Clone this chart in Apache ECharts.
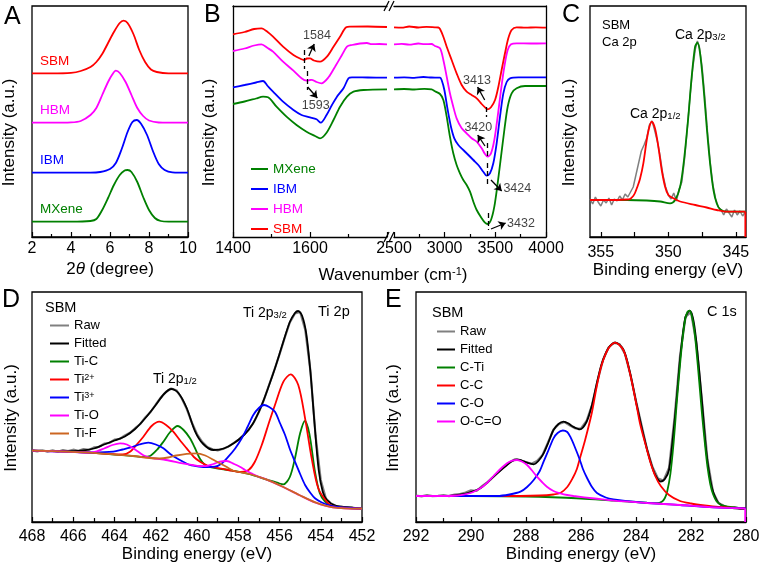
<!DOCTYPE html>
<html><head><meta charset="utf-8">
<script src="https://cdn.jsdelivr.net/npm/echarts@6/dist/echarts.min.js"></script>
<style>html,body{margin:0;padding:0;background:#fff}#c{width:762px;height:569px}</style>
</head><body><div id="c"></div>
<script>
// ---------- Panel A: XRD (2theta, intensity a.u.) ----------
const aSBM = [[2,163.7],[3,163.7],[4,164.2],[4.5,166],[5.0,170],[5.3,175],[5.6,183],[5.9,194],[6.2,205],[6.5,214],[6.7,216.3],[6.9,214],[7.2,203],[7.5,187],[7.8,175],[8.1,167.5],[8.4,165],[9,163.7],[10,163.7]];
const aHBM = [[2,114.3],[3,114.3],[4,114.6],[4.5,116],[5.0,122],[5.3,129],[5.6,142],[5.9,155],[6.1,162],[6.3,166.3],[6.5,164],[6.8,155],[7.1,142],[7.4,129],[7.7,121],[8.0,116.5],[8.5,114.5],[9,114.3],[10,114.3]];
const aIBM = [[2,64.3],[5,64.3],[5.5,65],[6.0,68],[6.3,74],[6.6,88],[6.9,105],[7.15,115],[7.37,117],[7.6,113],[7.9,102],[8.2,86],[8.5,73],[8.8,67],[9.2,64.6],[10,64.3]];
const aMX = [[2,15.3],[4,15.3],[5.0,16],[5.3,18],[5.6,27],[5.9,39],[6.2,52],[6.5,62],[6.75,66.5],[6.9,67],[7.1,65],[7.4,55],[7.7,40],[8.0,27],[8.3,19],[8.6,16],[9,15.3],[10,15.3]];

// ---------- Panel B: FTIR (wavenumber, intensity) ----------
const bSBM_L = [[1400,202.7],[1430,205],[1455,208],[1474,208.7],[1490,205],[1504,200.3],[1530,190.3],[1557,182],[1578,177.7],[1584,177],[1592,178.5],[1600,178.7],[1610,176.5],[1626,175.3],[1644,180.3],[1661,190.3],[1678,200.3],[1694,209.7],[1705,210.3],[1750,210.5],[1800,210]];
const bHBM_L = [[1400,186],[1430,188.5],[1455,191.5],[1474,192.7],[1490,189],[1504,185.3],[1530,175.3],[1557,166.3],[1578,158.7],[1591,156.3],[1600,157],[1604,157.2],[1617,155],[1630,153.7],[1648,159.7],[1665,170.3],[1683,182],[1696,190.3],[1709,192],[1730,193.5],[1748,194],[1760,192.8],[1780,193],[1800,192.7]];
const bIBM_L = [[1400,149.7],[1430,152],[1460,154.5],[1478,156],[1490,151],[1504,145.3],[1530,135.3],[1557,127],[1578,122],[1600,119.7],[1617,117.7],[1628,114.3],[1643,122],[1657,132],[1670,140.3],[1687,148.7],[1700,158.7],[1709,159.7],[1750,159.5],[1800,159.3]];
const bMX_L = [[1400,133],[1430,135.5],[1460,138.5],[1478,140.3],[1491,139.7],[1513,130.3],[1539,120.3],[1565,112],[1591,105.3],[1613,101],[1626,98.7],[1643,104.3],[1661,117],[1678,130.3],[1696,140.3],[1713,145.3],[1739,147],[1800,147.7]];
const bSBM_R = [[2500,209.7],[2576,209.3],[2650,210.5],[2740,209.5],[2820,210.2],[2904,209.7],[2937,209.5],[2954,208],[2987,200.3],[3020,190.3],[3069,177],[3118,163.7],[3168,152],[3217,145.3],[3266,142],[3316,138.7],[3365,133],[3398,129.7],[3424,127.7],[3457,129.7],[3497,137],[3530,150.3],[3562,167],[3595,183.7],[3628,198.7],[3661,207],[3710,209.7],[3800,209.3],[3900,209.7],[4000,209.3]];
const bHBM_R = [[2500,192.7],[2576,193.2],[2650,192.3],[2740,193.5],[2800,192.8],[2871,193],[2904,191],[2954,188.7],[2987,177],[3020,160.3],[3052,143.7],[3085,130.3],[3118,118.7],[3168,108.7],[3217,103.7],[3266,98.7],[3316,95.3],[3365,88.7],[3398,83],[3424,80.3],[3457,83.7],[3490,97],[3523,120.3],[3556,147],[3589,170.3],[3622,187],[3655,192.7],[3710,193.7],[3850,193.5],[4000,193.7]];
const bIBM_R = [[2500,159.3],[2600,159.6],[2700,159.2],[2790,160],[2870,159.5],[2954,159.3],[2970,157],[2997,147],[3030,127],[3062,110.3],[3095,98.7],[3135,92],[3184,87],[3234,82],[3283,77],[3332,72],[3381,65.3],[3414,61.3],[3447,63.7],[3480,73.7],[3513,93.7],[3546,120.3],[3579,143.7],[3612,155],[3645,158.7],[3727,159.7],[4000,159.7]];
const bMX_R = [[2500,147.7],[2600,148],[2700,147.5],[2800,148.2],[2871,147.7],[2904,145.7],[2954,143],[2987,137],[3020,120.3],[3052,100.3],[3085,83.7],[3118,72],[3151,63.7],[3184,57],[3217,52],[3250,45.3],[3283,35.3],[3316,27],[3365,18.7],[3398,14.3],[3424,13],[3457,17],[3490,30.3],[3523,53.7],[3556,80.3],[3589,107],[3622,130.3],[3661,143.7],[3710,148.7],[3793,151],[4000,151]];
// annotations: dashed guides [x1,y1,x2,y2], arrows [x1,y1,x2,y2], texts [x,y,label]
const bLeftDash = [[1584,187,1584,168],[1593,166,1593,147]];
const bLeftArrow = [[1597,181,1611,193],[1594,150,1619,139]];
const bLeftText = [[1618,201,'1584'],[1615,131,'1593']];
const bRightDash = [[3413,130,3413,120],[3420,94,3420,78],[3424,74,3424,52],[3432,24,3432,7]];
const bRightArrow = [[3395,137,3325,150],[3398,91,3326,102],[3457,57,3563,46],[3457,8,3602,14]];
const bRightText = [[3319,156,'3413'],[3332,109,'3420'],[3717,48,'3424'],[3753,13,'3432']];

// ---------- Panel C: Ca 2p XPS ----------
const cRaw = [[355.8,38],[355.6,33],[355.4,40],[355.2,35],[355.0,31],[354.8,37],[354.6,34],[354.4,39],[354.2,32],[354.0,38],[353.8,36],[353.6,41],[353.4,37],[353.2,43],[353.0,40],[352.8,45],[352.6,50],[352.4,62],[352.2,74],[352.0,86],[351.8,92],[351.6,99],[351.4,112],[351.2,116],[351.0,106],[350.8,95],[350.6,80],[350.4,62],[350.2,50],[350.0,42],[349.8,38],[349.6,44],[349.4,36],[349.2,48],[349.0,55],[348.8,78],[348.6,108],[348.4,140],[348.2,168],[348.0,188],[347.85,196],[347.7,190],[347.5,170],[347.3,140],[347.1,105],[346.9,75],[346.7,52],[346.5,38],[346.3,30],[346.1,27],[345.9,22],[345.7,28],[345.5,24],[345.3,20],[345.1,27],[344.9,22],[344.7,26],[344.5,21],[344.3,25]];
const cP12 = [[355.8,37],[354.3,37],[353.1,37.5],[352.84,38],[352.6,41],[352.47,44],[352.3,50],[352.1,58],[351.85,73.7],[351.6,97],[351.4,110.3],[351.23,115.3],[350.99,108.7],[350.74,90.3],[350.49,67],[350.24,50.3],[350.0,42],[349.63,38.7],[349.13,35.5],[348.0,32],[347.16,29.5],[346.42,27],[345.68,25.3],[344.3,25.3]];
const cP32 = [[355.8,37],[353.08,37],[351.6,36.5],[350.6,35.5],[349.87,33.7],[349.5,37],[349.13,50],[348.84,77],[348.52,120.3],[348.27,160.3],[348.02,190.3],[347.85,194.3],[347.65,183.7],[347.4,150.3],[347.16,110.3],[346.91,73.7],[346.66,47],[346.42,33.7],[346.17,27.7],[345.68,25.3],[344.3,25.3]];
const cDrop = [[344.3,25.3],[344.3,0]];

// ---------- Panel D: Ti 2p XPS ----------
const dRaw = [[468.0,71.5],[467.75,70.6],[467.5,71.8],[467.25,70.4],[467.0,71.6],[466.75,70.2],[466.5,72.0],[466.25,70.9],[466.0,72.3],[465.75,71.2],[465.5,73.0],[465.25,72.1],[465.0,74.6],[464.75,75.2],[464.5,78.4],[464.25,79.0],[464.0,82.3],[463.75,83.0],[463.5,86.5],[463.25,89.2],[463.0,93.8],[462.75,98.0],[462.5,104.8],[462.25,110.0],[462.0,117.5],[461.75,124.5],[461.5,130.2],[461.25,133.5],[461.0,131.8],[460.75,124.0],[460.5,113.2],[460.25,99.5],[460.0,88.0],[459.75,80.2],[459.5,75.0],[459.25,72.8],[459.0,71.5],[458.75,73.0],[458.5,75.2],[458.25,78.6],[458.0,82.0],[457.75,86.8],[457.5,92.0],[457.25,99.5],[457.0,110.0],[456.75,122.5],[456.5,137.5],[456.25,152.0],[456.0,167.5],[455.75,184.0],[455.5,199.5],[455.25,208.5],[455.0,210.0],[454.75,192.0],[454.5,151.0],[454.25,86.0],[454.0,42.0],[453.75,23.5],[453.5,18.5],[453.25,16.0],[453.0,15.5],[452.75,14.2],[452.5,14.6],[452.25,13.5],[452.0,13.3]];
const dFit = [[468.0,71.3],[467.0,71.0],[466.0,70.8],[465.5,71.5],[465.0,73.5],[464.5,77.5],[464.0,81.5],[463.5,85.5],[463.0,93],[462.5,104],[462.0,117],[461.6,128],[461.25,133],[460.9,129],[460.5,114],[460.1,91],[459.7,78],[459.2,72],[458.7,73.5],[458.2,79],[457.7,87.5],[457.3,98],[456.9,115],[456.5,137],[456.2,155],[455.85,178],[455.5,200],[455.25,209],[455.1,211],[454.9,206],[454.7,188],[454.5,150],[454.3,98],[454.1,52],[453.9,30],[453.7,22],[453.3,16.5],[452.5,14.3],[452.0,13.3]];
const dTiC = [[468,71.3],[466.3,70.3],[464.7,68.7],[463.1,66],[462.6,65.2],[462.28,66],[461.95,72],[461.63,80.3],[461.3,90],[460.94,96],[460.65,92],[460.34,83.7],[460.1,74],[459.85,63],[459.6,57],[459.3,54.5],[458.8,53],[458.3,51.3],[457.5,48],[456.65,42.7],[456.0,38.5],[455.81,37.7],[455.5,45],[455.25,63.7],[455.0,88.7],[454.77,101],[454.55,88],[454.28,50.3],[454.05,29],[453.79,20.3],[453.4,15.5],[452,13.3]];
const dTi2 = [[468,71.3],[466.3,70.3],[464.7,68.7],[463.6,67.5],[463.25,70.3],[462.9,78],[462.6,85.3],[462.2,96],[461.83,100.3],[461.5,97],[461.15,90.3],[460.8,81],[460.5,73.7],[460.15,65],[459.85,60.3],[459.5,56.5],[459.1,54.3],[458.3,51.3],[457.9,50],[457.5,52],[457.2,60],[456.86,77],[456.5,100],[456.22,117],[455.81,140.3],[455.46,147.7],[455.09,137],[454.76,103.7],[454.44,63.7],[454.12,33.7],[453.71,20.3],[453.4,15.5],[452,13.3]];
const dTi3 = [[468,71.3],[466.3,70.3],[465,69.5],[464.06,70.3],[463.6,72.5],[463.25,74.3],[462.8,77.5],[462.36,79.3],[462.0,77.5],[461.63,73.7],[461.3,68],[460.98,63.7],[460.65,60],[460.34,57],[459.9,55.5],[459.5,55],[459.13,55.3],[458.8,58.5],[458.48,65.3],[458.15,73.5],[457.83,83.7],[457.55,95],[457.27,107],[457.0,114],[456.75,117],[456.5,115],[456.22,110.3],[455.98,99],[455.73,87],[455.5,73],[455.25,60.3],[455.0,48],[454.76,37],[454.5,29],[454.28,23.7],[453.95,19.5],[453.63,17],[453.2,15],[452,13.3]];
const dTiO = [[468,71.3],[466.3,70.3],[465.3,69.5],[464.86,70.7],[464.5,73.5],[464.1,77],[463.73,78.7],[463.4,77.5],[463.0,72.5],[462.6,66.7],[462.2,64],[461.5,62],[460.7,58.7],[460.2,57],[459.9,56],[459.6,55.8],[459.2,58],[458.9,60.3],[458.56,61],[458.2,58],[457.9,55],[457.67,52],[457.3,48],[457.03,45.3],[456.65,42.7],[455.85,35.3],[455.05,27],[454.25,19.3],[453.4,14.7],[452,13.3]];
const dTiF = [[468,71.3],[466.3,70.3],[464.7,68.7],[463.1,66],[462.3,64],[461.8,63.5],[461.4,64.5],[461.0,66.5],[460.5,68.2],[460.04,68.7],[459.6,66.5],[459.1,61],[458.6,55.5],[458.26,51.5],[457.46,48],[456.65,42.7],[455.84,35.3],[455.04,27],[454.23,19.3],[453.42,14.7],[452.0,13.3]];

// ---------- Panel E: C 1s XPS ----------
const eRaw = [[292.0,26.5],[291.8,25.6],[291.6,26.9],[291.4,25.8],[291.2,26.2],[291.0,27.0],[290.8,25.9],[290.6,27.4],[290.4,28.0],[290.2,29.5],[290.0,31.6],[289.8,31.0],[289.6,35.8],[289.4,40.0],[289.2,44.8],[289.0,50.2],[288.8,55.0],[288.6,59.5],[288.4,62.8],[288.2,61.5],[288.0,60.0],[287.8,58.2],[287.6,61.0],[287.4,67.0],[287.2,79.5],[287.0,92.5],[286.8,98.0],[286.6,100.0],[286.4,96.5],[286.2,93.5],[286.0,93.5],[285.8,101],[285.6,117],[285.4,141],[285.2,162],[285.0,174.5],[284.8,179],[284.6,178],[284.4,168],[284.2,147],[284.0,121],[283.8,97],[283.6,73],[283.4,55],[283.2,43.5],[283.0,41.5],[282.8,54],[282.6,104],[282.4,166],[282.2,205],[282.0,210],[281.8,178],[281.6,121],[281.4,62],[281.2,30],[281.0,19],[280.8,16.2],[280.6,14.0],[280.4,14.8],[280.2,13.2],[280.0,13.6]];
const eFit = [[292,26],[291.5,26],[290.87,26.2],[290.5,27.2],[290.15,28.7],[289.9,30.8],[289.66,33.7],[289.42,39],[289.18,45.3],[288.93,51.5],[288.69,57],[288.5,61],[288.33,62.7],[288.15,61.5],[287.96,59.3],[287.72,57.7],[287.55,61],[287.36,68.7],[287.18,80],[287.0,92],[286.82,98],[286.64,100.3],[286.45,98.5],[286.33,96],[286.04,92.7],[285.8,100],[285.61,116],[285.43,138],[285.25,158],[285.0,174],[284.76,179.5],[284.46,172.5],[284.22,149.5],[283.97,116.5],[283.72,86],[283.48,61],[283.3,47],[283.1,40.5],[282.95,43],[282.8,52],[282.63,92],[282.5,130],[282.39,165],[282.21,204],[282.05,211.3],[281.9,200],[281.75,165],[281.6,120],[281.45,72],[281.3,42],[281.18,29],[281.0,19],[280.69,14.7],[280,13.3]];
const eCTi = [[292,26],[290,26],[288,25.5],[286,23.5],[284.8,21.3],[284,20],[283.6,19.3],[283.24,18.8],[283.05,20.5],[282.95,24],[282.87,30],[282.75,48],[282.63,80],[282.51,122],[282.39,160],[282.3,185],[282.21,203],[282.13,210],[282.05,211.3],[281.97,206],[281.88,192],[281.79,168],[281.7,140],[281.6,108],[281.5,80],[281.4,55],[281.3,38],[281.2,28],[281.05,20],[280.8,16],[280,13.5]];
const eCC = [[292,26],[289,26],[287.5,26.5],[287.0,27.5],[286.75,29],[286.5,35],[286.3,44],[286.15,53],[286.04,63.7],[285.85,82],[285.61,108.7],[285.43,135.3],[285.25,157],[285.0,173.7],[284.76,179.3],[284.46,172],[284.22,148.7],[283.97,115.3],[283.85,98],[283.6,72],[283.48,60],[283.3,46],[283.1,36],[282.8,27],[282.4,21],[282.0,18.5],[281.5,16.5],[281.0,15],[280,13.5]];
const eCO = [[292,26],[289.05,26],[288.6,27.5],[288.2,30.3],[287.96,35],[287.72,42],[287.5,51],[287.36,60.3],[287.18,72],[287.0,83.7],[286.85,89],[286.66,91.5],[286.5,90],[286.39,85.3],[286.24,76],[286.04,62],[285.93,53],[285.78,44],[285.6,35],[285.42,29],[285.1,24.5],[284.82,22.7],[284,20],[282.4,17],[281.2,14.7],[280,13.7]];
const eOCO = [[292,26],[290.87,26],[290.5,26.5],[290.27,27.3],[289.96,29.5],[289.66,33.7],[289.4,39.5],[289.18,46],[288.93,53],[288.69,58.7],[288.5,61.3],[288.33,62],[288.15,60.5],[287.96,57],[287.78,51.5],[287.6,45.3],[287.42,40],[287.24,35.3],[287.0,31],[286.75,28.7],[286.5,27],[286.27,26],[285.5,23.5],[284.81,21.3],[283.6,19],[282.39,17],[281.18,14.7],[280.03,13.7]];
const eDrop = [[280.03,13.7],[280.03,0]];

// ---------- styling ----------
const FONT = "'Liberation Sans', Arial, Helvetica, sans-serif";
const RED='#FF0000', MAG='#FF00FF', BLUE='#0000FF', GREEN='#008000', GRAY='#808080', BLACK='#000000', BROWN='#CC6622';

const chart = echarts.init(document.getElementById('c'), null, {renderer:'canvas'});

function ln(name, data, color, xi, yi, opt){
  return Object.assign({type:'line', name, data, xAxisIndex:xi, yAxisIndex:yi, symbol:'none', showSymbol:false,
    smooth:0.3, lineStyle:{color, width:1.8}, itemStyle:{color}, emphasis:{disabled:true}, silent:true, animation:false}, opt||{});
}
const tickStyle = {color:'#000', width:1.2};
const plainNum = v => (v === null || v === undefined) ? '' : String(v);
function bottomAxis(gi, min, max, interval, inverse, margin, extra){
  return Object.assign({gridIndex:gi, type:'value', position:'bottom', min, max, interval, inverse:!!inverse,
    axisLine:{show:true, onZero:false, lineStyle:{color:'#000', width:1.3}},
    axisTick:{show:true, inside:true, length:5, lineStyle:tickStyle},
    minorTick:{show:true, splitNumber:2, length:3, lineStyle:tickStyle},
    axisLabel:{show:true, margin, color:'#000', fontSize:16, fontFamily:FONT, formatter:plainNum},
    splitLine:{show:false}, minorSplitLine:{show:false},
    nameLocation:'middle', nameGap:24, nameTextStyle:{fontSize:17, fontFamily:FONT, color:'#000'}}, extra||{});
}
function yAx(gi, max, name, gap, extra){
  return Object.assign({gridIndex:gi, type:'value', min:0, max, axisLine:{show:false}, axisTick:{show:false},
    axisLabel:{show:false}, splitLine:{show:false}, name, nameLocation:'middle', nameGap:gap,
    nameTextStyle:{fontSize:17, fontFamily:FONT, color:'#000', padding:[0,22,0,0]}}, extra||{});
}
const boxed = {show:true, borderColor:'#000', borderWidth:1.3, backgroundColor:'transparent', containLabel:false, outerBoundsMode:'none'};

function dashPairs(arr){ return arr.map(d => [{coord:[d[0],d[1]]},{coord:[d[2],d[3]]}]); }
function arrowPairs(arr){ return arr.map(d => [{coord:[d[0],d[1]], symbol:'none', lineStyle:{type:'solid', width:1.3, color:'#000'}},{coord:[d[2],d[3]], symbol:'arrow', symbolSize:7}]); }
function annot(xi, yi, texts, dashes, arrows){
  return {type:'scatter', name:'annot'+xi, xAxisIndex:xi, yAxisIndex:yi, symbolSize:1, itemStyle:{color:'rgba(0,0,0,0)'},
    silent:true, animation:false, data:texts,
    label:{show:true, position:'inside', formatter:p => p.data[2], color:'#111', fontSize:12.5, fontFamily:FONT},
    markLine:{silent:true, animation:false, symbol:['none','none'], label:{show:false},
      lineStyle:{color:'#000', width:1.3, type:[5,3]}, emphasis:{disabled:true},
      data: dashPairs(dashes).concat(arrowPairs(arrows))}};
}

const supRich = {s:{fontSize:9, verticalAlign:'top', lineHeight:9, fontFamily:FONT, color:'#000'}};
function gtext(x, y, text, size, color){
  return {type:'text', x, y, silent:true, style:{text, fontSize:size, fontFamily:FONT, fill:color||'#000', align:'left', verticalAlign:'middle'}};
}
const subRich = {m:{fontSize:14, fontFamily:FONT, lineHeight:14}, s:{fontSize:9.5, fontFamily:FONT, lineHeight:9, padding:[9,0,0,0], verticalAlign:'bottom'}};

const option = {
  animation:false,
  backgroundColor:'#fff',
  textStyle:{fontFamily:FONT},
  grid:[
    Object.assign({left:32, top:6, width:156, height:231}, boxed),
    {left:233, top:6, width:154, height:231, containLabel:false, outerBoundsMode:'none'},
    {left:394, top:6, width:152, height:231, containLabel:false, outerBoundsMode:'none'},
    Object.assign({left:590, top:6, width:156, height:231}, boxed),
    Object.assign({left:32, top:292, width:330, height:230}, boxed),
    Object.assign({left:416, top:292, width:330, height:230}, boxed)
  ],
  xAxis:[
    bottomAxis(0, 2, 10, 2, false, 4, {name:'2{i|θ} (degree)', nameTextStyle:{fontSize:17, fontFamily:FONT, color:'#000', rich:{i:{fontStyle:'italic', fontSize:17, fontFamily:FONT}}}}),
    bottomAxis(1, 1400, 1800, 200, false, 4, {axisLabel:{margin:4, color:'#000', fontSize:16, fontFamily:FONT, formatter:v => v===1800 ? '' : String(v)}}),
    bottomAxis(2, 2500, 4000, 500, false, 4),
    {gridIndex:1, type:'value', min:1400, max:1800, position:'top', axisLine:{show:true, onZero:false, lineStyle:{color:'#000', width:1.3}}, axisTick:{show:false}, axisLabel:{show:false}, splitLine:{show:false}},
    {gridIndex:2, type:'value', min:2500, max:4000, position:'top', axisLine:{show:true, onZero:false, lineStyle:{color:'#000', width:1.3}}, axisTick:{show:false}, axisLabel:{show:false}, splitLine:{show:false}},
    bottomAxis(3, 344.25, 355.8, null, true, 8, {interval:undefined, name:'Binding energy (eV)',
      axisTick:{show:true, inside:true, length:5, lineStyle:tickStyle, customValues:[345,347.5,350,352.5,355]},
      minorTick:{show:false},
      axisLabel:{show:true, margin:8, color:'#000', fontSize:16, fontFamily:FONT, customValues:[345,350,355], formatter:plainNum}}),
    bottomAxis(4, 452, 468, 2, true, 7, {name:'Binding energy (eV)', minorTick:{show:true, splitNumber:2, length:4, lineStyle:tickStyle}}),
    bottomAxis(5, 280, 292, 2, true, 7, {name:'Binding energy (eV)', minorTick:{show:true, splitNumber:2, length:4, lineStyle:tickStyle}})
  ],
  yAxis:[
    yAx(0, 231, 'Intensity (a.u.)', 14),
    yAx(1, 231, 'Intensity (a.u.)', 15, {axisLine:{show:true, onZero:false, lineStyle:{color:'#000', width:1.3}}}),
    {gridIndex:2, type:'value', min:0, max:231, position:'right', axisLine:{show:true, onZero:false, lineStyle:{color:'#000', width:1.3}}, axisTick:{show:false}, axisLabel:{show:false}, splitLine:{show:false}},
    yAx(3, 231, 'Intensity (a.u.)', 12),
    yAx(4, 230, 'Intensity (a.u.)', 12),
    yAx(5, 230, 'Intensity (a.u.)', 14)
  ],
  legend:[
    {orient:'vertical', left:246, top:157, itemWidth:17, itemHeight:2, itemGap:6, icon:'rect', selectedMode:false,
     textStyle:{fontSize:13.5, fontFamily:FONT},
     data:[{name:'MXene', textStyle:{color:GREEN}}, {name:'IBM', textStyle:{color:BLUE}}, {name:'HBM', textStyle:{color:MAG}}, {name:'SBM', textStyle:{color:RED}}]},
    {orient:'vertical', left:45, top:314, itemWidth:19, itemHeight:2, itemGap:5, icon:'rect', selectedMode:false,
     textStyle:{fontSize:13, fontFamily:FONT, color:'#000', rich:supRich},
     formatter: n => n==='Ti2+' ? 'Ti{s|2+}' : (n==='Ti3+' ? 'Ti{s|3+}' : n),
     data:['Raw','Fitted','Ti-C','Ti2+','Ti3+','Ti-O','Ti-F']},
    {orient:'vertical', left:432, top:320, itemWidth:18, itemHeight:2, itemGap:5, icon:'rect', selectedMode:false,
     textStyle:{fontSize:13, fontFamily:FONT, color:'#000'},
     data:['Raw','Fitted','C-Ti','C-C','C-O','O-C=O']}
  ],
  series:[
    // A
    ln('MXene', aMX, GREEN, 0, 0), ln('IBM', aIBM, BLUE, 0, 0), ln('HBM', aHBM, MAG, 0, 0), ln('SBM', aSBM, RED, 0, 0),
    // B left/right
    ln('MXene', bMX_L, GREEN, 1, 1), ln('IBM', bIBM_L, BLUE, 1, 1), ln('HBM', bHBM_L, MAG, 1, 1), ln('SBM', bSBM_L, RED, 1, 1),
    ln('MXene', bMX_R, GREEN, 2, 2), ln('IBM', bIBM_R, BLUE, 2, 2), ln('HBM', bHBM_R, MAG, 2, 2), ln('SBM', bSBM_R, RED, 2, 2),
    annot(1, 1, bLeftText, bLeftDash, bLeftArrow),
    annot(2, 2, bRightText, bRightDash, bRightArrow),
    // C
    ln('RawC', cRaw, GRAY, 5, 3, {smooth:false, lineStyle:{color:GRAY, width:1.5}}),
    ln('Ca32', cP32, GREEN, 5, 3),
    ln('Ca12', cP12, RED, 5, 3),
    ln('Ca12d', cDrop, RED, 5, 3, {smooth:false}),
    // D
    ln('Raw', dRaw, GRAY, 6, 4, {smooth:false, lineStyle:{color:GRAY, width:2.2}}),
    ln('Fitted', dFit, BLACK, 6, 4),
    ln('Ti-C', dTiC, GREEN, 6, 4), ln('Ti2+', dTi2, RED, 6, 4), ln('Ti3+', dTi3, BLUE, 6, 4),
    ln('Ti-O', dTiO, MAG, 6, 4), ln('Ti-F', dTiF, BROWN, 6, 4),
    // E
    ln('Raw', eRaw, GRAY, 7, 5, {smooth:false, lineStyle:{color:GRAY, width:2.2}}),
    ln('Fitted', eFit, BLACK, 7, 5),
    ln('C-Ti', eCTi, GREEN, 7, 5), ln('C-C', eCC, RED, 7, 5), ln('C-O', eCO, BLUE, 7, 5),
    ln('O-C=O', eOCO, MAG, 7, 5), ln('O-C=Od', eDrop, MAG, 7, 5, {smooth:false})
  ],
  graphic:[
    gtext(4, 17, 'A', 25), gtext(204, 15, 'B', 25), gtext(562, 15, 'C', 25), gtext(2, 300, 'D', 25), gtext(385, 300, 'E', 25),
    gtext(40, 61, 'SBM', 13.5, RED), gtext(40, 110, 'HBM', 13.5, MAG), gtext(40, 160, 'IBM', 13.5, BLUE), gtext(40, 209, 'MXene', 13.5, GREEN),
    {type:'text', x:393, y:275, silent:true, style:{text:'Wavenumber (cm{s|-1})', fontSize:17, fontFamily:FONT, fill:'#000', align:'center', verticalAlign:'middle',
      rich:{s:{fontSize:11, fontFamily:FONT, verticalAlign:'top', lineHeight:11}}}},
    gtext(602, 25, 'SBM', 13), gtext(602, 42, 'Ca 2p', 13),
    {type:'text', x:675, y:35, silent:true, style:{text:'{m|Ca 2p}{s|3/2}', align:'left', verticalAlign:'middle', fill:'#000', rich:subRich}},
    {type:'text', x:630, y:114, silent:true, style:{text:'{m|Ca 2p}{s|1/2}', align:'left', verticalAlign:'middle', fill:'#000', rich:subRich}},
    gtext(45, 308, 'SBM', 14.5),
    {type:'text', x:243, y:313, silent:true, style:{text:'{m|Ti 2p}{s|3/2}', align:'left', verticalAlign:'middle', fill:'#000', rich:subRich}},
    gtext(318, 312, 'Ti 2p', 14.5),
    {type:'text', x:153, y:379, silent:true, style:{text:'{m|Ti 2p}{s|1/2}', align:'left', verticalAlign:'middle', fill:'#000', rich:subRich}},
    gtext(432, 313, 'SBM', 14.5), gtext(707, 312, 'C 1s', 14.5),
    // axis break marks
    {type:'line', silent:true, shape:{x1:384, y1:11, x2:389, y2:1}, style:{stroke:'#000', lineWidth:1.3}},
    {type:'line', silent:true, shape:{x1:389, y1:11, x2:394, y2:1}, style:{stroke:'#000', lineWidth:1.3}},
    {type:'line', silent:true, shape:{x1:384, y1:242, x2:389, y2:232}, style:{stroke:'#000', lineWidth:1.3}},
    {type:'line', silent:true, shape:{x1:389, y1:242, x2:394, y2:232}, style:{stroke:'#000', lineWidth:1.3}}
  ]
};
chart.setOption(option);
</script></body></html>
